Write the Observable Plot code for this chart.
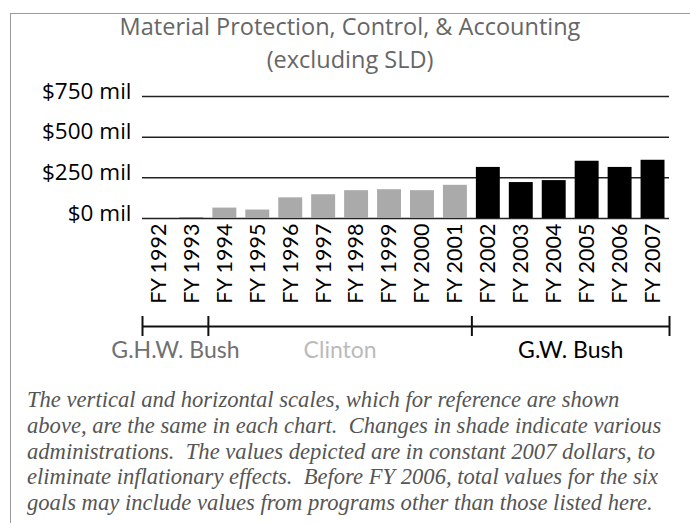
<!DOCTYPE html>
<html>
<head>
<meta charset="utf-8">
<script src="https://cdn.jsdelivr.net/npm/d3@7"></script>
<script src="https://cdn.jsdelivr.net/npm/@observablehq/plot@0.6"></script>
<style>
  html, body { margin: 0; padding: 0; background: #fff; }
  #frame { position: relative; width: 690px; height: 523px; overflow: hidden; background: #fff; }
  #border-top { position: absolute; left: 10px; top: 13px; width: 680px; height: 0; border-top: 1.5px solid #999; }
  #border-left { position: absolute; left: 10px; top: 13px; width: 0; height: 520px; border-left: 1.5px solid #999; }
  #title { position: absolute; left: 10px; top: 10px; width: 680px; text-align: center;
           font-family: "Open Sans", sans-serif; font-size: 23.5px; line-height: 33px; color: #666; }
  #chart { position: absolute; left: 0; top: 80px; }
  #admins { position: absolute; left: 0; top: 310px; }
  #caption { position: absolute; left: 27px; top: 387px; white-space: pre;
             font-family: "Liberation Serif", serif; font-style: italic; font-size: 22.6px;
             line-height: 25.8px; color: #555; }
</style>
</head>
<body>
<div id="frame">
  <div id="border-top"></div>
  <div id="border-left"></div>
  <div id="title"></div>
  <div id="chart"></div>
  <div id="admins"></div>
  <div id="caption"></div>
</div>
<script>
// ---- data ----
const titleLines = ["Material Protection, Control, & Accounting", "(excluding SLD)"];
const years  = [1992, 1993, 1994, 1995, 1996, 1997, 1998, 1999, 2000, 2001, 2002, 2003, 2004, 2005, 2006, 2007];
const values = [0, 3, 64, 52, 127, 146, 171, 177, 171, 204, 314, 221, 233, 352, 314, 358]; // $ millions
const yTicks = [0, 250, 500, 750];
const adminNames  = ["G.H.W. Bush", "Clinton", "G.W. Bush"];
const adminStart  = [1992, 1994, 2002];
const adminEnd    = [1993, 2001, 2007];
const barColors   = ["#555555", "#aaaaaa", "#000000"];
const labelColors = ["#707070", "#bbbbbb", "#000000"];
const captionLines = [
  "The vertical and horizontal scales, which for reference are shown",
  "above, are the same in each chart.  Changes in shade indicate various",
  "administrations.  The values depicted are in constant 2007 dollars, to",
  "eliminate inflationary effects.  Before FY 2006, total values for the six",
  "goals may include values from programs other than those listed here."
];

// ---- build tables ----
const adminOf = y => adminNames[adminStart.findIndex((s, i) => y >= s && y <= adminEnd[i])];
const data = years.map((year, i) => ({year, value: values[i], admin: adminOf(years[i])}));
const admins = adminNames.map((name, i) => ({name, start: adminStart[i], end: adminEnd[i]}));
const boundaries = [...adminStart.map(s => s - 0.5), adminEnd[adminEnd.length - 1] + 0.5];

document.getElementById("title").innerHTML = titleLines.join("<br>");
document.getElementById("caption").textContent = captionLines.join("\n");

const W = 690, ML = 142, MR = 21;
const xDomain = [years[0] - 0.5, years[years.length - 1] + 0.5];

const chart = Plot.plot({
  width: W, height: 230,
  marginTop: 16, marginBottom: 92, marginLeft: ML, marginRight: MR,
  x: {domain: xDomain},
  y: {domain: [0, 750]},
  color: {domain: adminNames, range: barColors},
  style: {background: "transparent", overflow: "visible"},
  marks: [
    Plot.ruleY(yTicks, {stroke: "#222", strokeWidth: 1.5}),
    Plot.rectY(data, {x1: d => d.year - 0.5, x2: d => d.year + 0.5, y: "value", fill: "admin", insetLeft: 4.5, insetRight: 4.5}),
    Plot.axisY({ticks: yTicks, tickFormat: d => `$${d} mil`, tickSize: 0, tickPadding: 11, dy: -5,
                fontSize: 22.5, fontFamily: "Open Sans, sans-serif", fill: "#000", label: null}),
    Plot.axisX({ticks: years, tickFormat: d => `FY ${d}`, tickRotate: -90, tickSize: 0, tickPadding: 5,
                fontSize: 21.5, fontFamily: "Lato, sans-serif", fill: "#000", label: null})
  ]
});
document.getElementById("chart").appendChild(chart);

const adminPlot = Plot.plot({
  width: W, height: 60,
  marginTop: 6, marginBottom: 34, marginLeft: ML, marginRight: MR,
  x: {domain: xDomain, axis: null},
  y: {domain: [0, 1], axis: null},
  style: {background: "transparent", overflow: "visible"},
  marks: [
    Plot.ruleY(admins, {x1: d => d.start - 0.5, x2: d => d.end + 0.5, y: () => 0.5, stroke: "#111", strokeWidth: 2}),
    Plot.ruleX(boundaries, {y1: 0, y2: 1, stroke: "#111", strokeWidth: 2}),
    Plot.text(admins, {x: d => (d.start + d.end) / 2, frameAnchor: "bottom", lineAnchor: "top", dy: 5,
                       text: "name", fill: (d, i) => labelColors[i], fontSize: 23, fontFamily: "Lato, sans-serif"})
  ]
});
document.getElementById("admins").appendChild(adminPlot);
</script>
</body>
</html>
